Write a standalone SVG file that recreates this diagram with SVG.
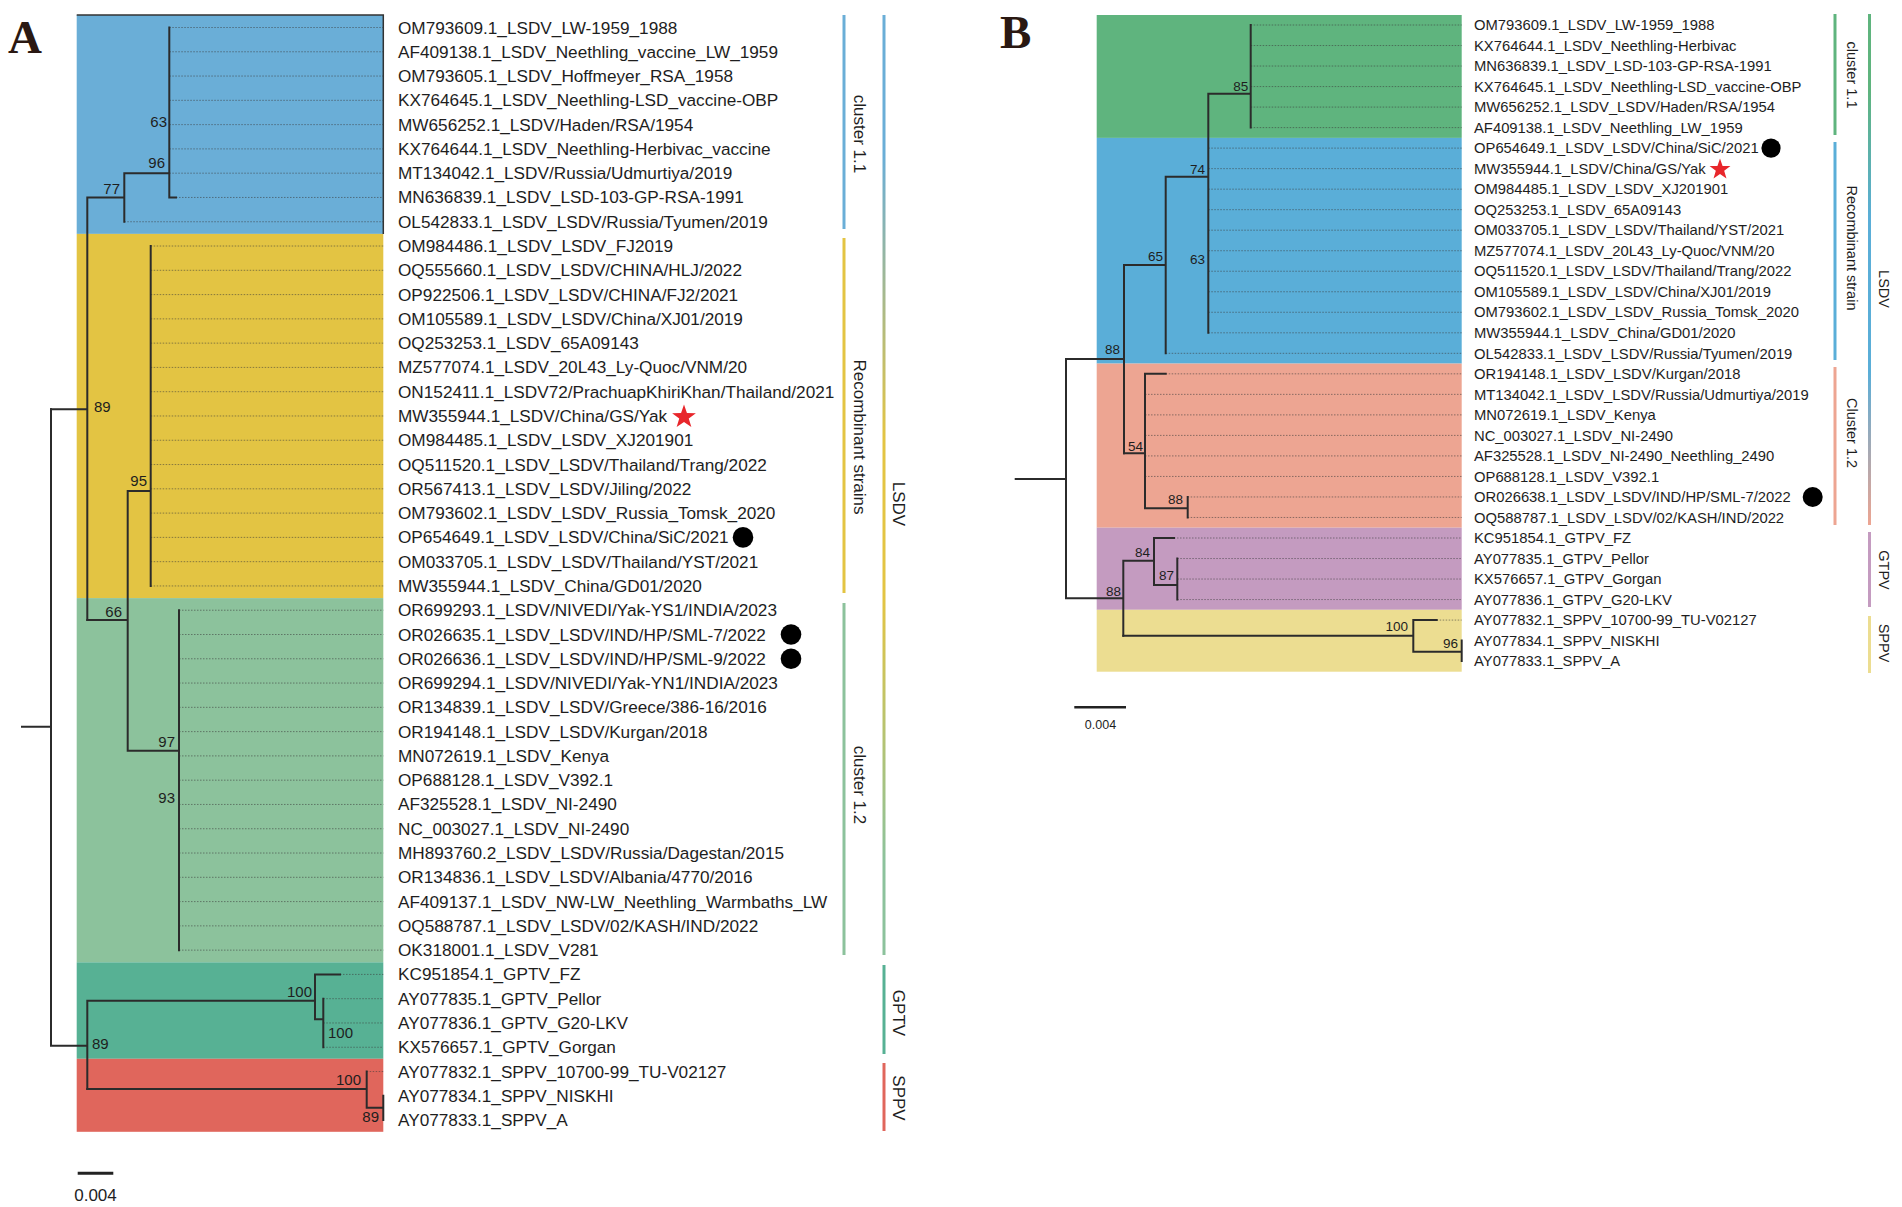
<svg xmlns="http://www.w3.org/2000/svg" xmlns:xlink="http://www.w3.org/1999/xlink" width="1902" height="1207" viewBox="0 0 1902 1207">
<style>
text{font-family:"Liberation Sans",Arial,sans-serif;fill:#1e1e1e}
.la{font-size:17.2px}
.lb{font-size:14.8px}
.bs{font-size:15px}
.bsb{font-size:13.5px}
.rot{font-size:17px;text-anchor:middle}
.rotb{font-size:14.5px;text-anchor:middle}
.panel{font-family:"Liberation Serif","Times New Roman",serif;font-weight:bold;font-size:47px;fill:#2a1812}
.br{stroke:#2b2b2b;stroke-width:2;fill:none;stroke-linecap:square}
.dot{stroke:#3a3a3a;stroke-width:1;stroke-dasharray:1.5 1.5;fill:none;opacity:0.55}
.bar{stroke-width:3;fill:none}
.end{text-anchor:end}
</style>
<defs>
<path id="star" d="M0,-1 L0.235,-0.324 L0.951,-0.309 L0.380,0.124 L0.588,0.809 L0,0.4 L-0.588,0.809 L-0.380,0.124 L-0.951,-0.309 L-0.235,-0.324 Z" fill="#e8262b"/>
<linearGradient id="gA" gradientUnits="userSpaceOnUse" x1="0" y1="15" x2="0" y2="955">
<stop offset="0" stop-color="#6aaed7"/><stop offset="0.15" stop-color="#6aaed7"/><stop offset="0.45" stop-color="#e3c443"/><stop offset="0.62" stop-color="#e3c443"/><stop offset="0.9" stop-color="#8cc29c"/><stop offset="1" stop-color="#8cc29c"/>
</linearGradient>
<linearGradient id="gB" gradientUnits="userSpaceOnUse" x1="0" y1="14" x2="0" y2="525">
<stop offset="0" stop-color="#5fb47e"/><stop offset="0.15" stop-color="#5fb47e"/><stop offset="0.4" stop-color="#5aaed8"/><stop offset="0.7" stop-color="#5aaed8"/><stop offset="1" stop-color="#eda592"/>
</linearGradient>
</defs>
<rect width="1902" height="1207" fill="#ffffff"/>

<!-- Panel A backgrounds -->
<g id="A-bg">
<rect x="76.7" y="15" width="306.6" height="218.9" fill="#6aaed7"/>
<rect x="76.7" y="233.9" width="306.6" height="364.2" fill="#e3c443"/>
<rect x="76.7" y="598.1" width="306.6" height="364.2" fill="#8cc29c"/>
<rect x="76.7" y="962.3" width="306.6" height="96.5" fill="#57b194"/>
<rect x="76.7" y="1058.8" width="306.6" height="73" fill="#e0665c"/>
<path d="M76.7,15 H383.3 V233.9" stroke="#333" stroke-width="1.5" fill="none"/>
</g>
<!-- Panel B backgrounds -->
<g id="B-bg">
<rect x="1096.7" y="15" width="365" height="122.9" fill="#5fb47e"/>
<rect x="1096.7" y="137.9" width="365" height="225.7" fill="#5aaed8"/>
<rect x="1096.7" y="363.6" width="365" height="164.1" fill="#eda592"/>
<rect x="1096.7" y="527.7" width="365" height="82.1" fill="#c49bc0"/>
<rect x="1096.7" y="609.8" width="365" height="61.9" fill="#ecdd91"/>
</g>

<text class="panel" x="8" y="53">A</text>
<text class="panel" x="1000" y="48">B</text>

<!-- connectors -->
<g id="connectors">
<g id="A-dotted" class="dot">
<path d="M169.3,27.5H383.3M169.3,51.78H383.3M169.3,76.06H383.3M169.3,100.34H383.3M169.3,124.62H383.3M169.3,148.9H383.3M169.3,173.18H383.3M176,197.46H383.3M124.3,221.74H383.3"/>
<path d="M150.7,246.02H383.3M150.7,270.3H383.3M150.7,294.58H383.3M150.7,318.86H383.3M150.7,343.14H383.3M150.7,367.42H383.3M150.7,391.7H383.3M150.7,415.98H383.3M150.7,440.26H383.3M150.7,464.54H383.3M150.7,488.82H383.3M150.7,513.1H383.3M150.7,537.38H383.3M150.7,561.66H383.3M150.7,585.94H383.3"/>
<path d="M179,610.22H383.3M179,634.5H383.3M179,658.78H383.3M179,683.06H383.3M179,707.34H383.3M179,731.62H383.3M179,755.9H383.3M179,780.18H383.3M179,804.46H383.3M179,828.74H383.3M179,853.02H383.3M179,877.3H383.3M179,901.58H383.3M179,925.86H383.3M179,950.14H383.3"/>
<path d="M340,974.42H383.3M323.3,998.7H383.3M323.3,1022.98H383.3M323.3,1047.26H383.3M366.7,1071.54H383.3"/>
</g>
<g id="A-tree" class="br">
<path d="M169.3,27.5V197.46H176M124.3,173.18H169.3M124.3,173.18V221.74M87.3,197.46H124.3M87.3,197.46V620M51,409.3H87.3"/>
<path d="M150.7,246.02V585.94M127.7,491H150.7M127.7,491V750.7M87.3,620H127.7M179,610.22V950.14M127.7,750.7H179"/>
<path d="M22,726.7H51M51,409.3V1045.7H87.3M87.3,1000.7V1089M87.3,1000.7H315M315,974.42V1019.3M315,974.42H340M315,1019.3H323.3M323.3,998.7V1047.26"/>
<path d="M87.3,1089H366.7M366.7,1071.54V1107.7H383.3M383.3,1095.82V1120.1"/>
</g>
<g id="B-dotted" class="dot">
<path d="M1250.7,25H1461.7M1250.7,45.52H1461.7M1250.7,66.04H1461.7M1250.7,86.56H1461.7M1250.7,107.08H1461.7M1250.7,127.6H1461.7"/>
<path d="M1208.3,148.12H1461.7M1208.3,168.64H1461.7M1208.3,189.16H1461.7M1208.3,209.68H1461.7M1208.3,230.2H1461.7M1208.3,250.72H1461.7M1208.3,271.24H1461.7M1208.3,291.76H1461.7M1208.3,312.28H1461.7M1208.3,332.8H1461.7M1165.7,353.32H1461.7"/>
<path d="M1165.7,373.84H1461.7M1145,394.36H1461.7M1145,414.88H1461.7M1145,435.4H1461.7M1145,455.92H1461.7M1145,476.44H1461.7M1187.7,496.96H1461.7M1187.7,517.48H1461.7"/>
<path d="M1174,538H1461.7M1177.3,558.52H1461.7M1177.3,579.04H1461.7M1177.3,599.56H1461.7M1436.7,620.08H1461.7"/>
</g>
<g id="B-tree" class="br">
<path d="M1250.7,25V127.6M1208.3,93.7H1250.7M1208.3,93.7V332.8M1165.7,176.7H1208.3M1165.7,176.7V353.32M1124,265H1165.7M1124,265V453.3M1066,359H1124"/>
<path d="M1124,453.3H1145M1145,373.84V508.3M1145,373.84H1165.7M1145,508.3H1187.7M1187.7,496.96V517.48"/>
<path d="M1015.7,479H1066M1066,359V598.3H1123.3M1123.3,560.7V635.7M1123.3,560.7H1154M1154,538V585M1154,538H1174M1154,585H1177.3M1177.3,558.52V599.56"/>
<path d="M1123.3,635.7H1413.3M1413.3,620.08V651.7M1413.3,620.08H1436.7M1413.3,651.7H1461.7M1461.7,640.6V661.12"/>
</g>
</g>

<!-- bootstrap values A -->
<g id="A-support" class="bs">
<text class="end" x="167" y="126.5">63</text>
<text class="end" x="165" y="167.5">96</text>
<text class="end" x="120" y="193.5">77</text>
<text x="94" y="411.5">89</text>
<text class="end" x="147" y="485.5">95</text>
<text class="end" x="122" y="616.5">66</text>
<text class="end" x="175" y="747">97</text>
<text class="end" x="175" y="803">93</text>
<text class="end" x="312" y="997">100</text>
<text x="328" y="1037.5">100</text>
<text x="92" y="1048.5">89</text>
<text class="end" x="361" y="1084.5">100</text>
<text class="end" x="379" y="1122">89</text>
</g>
<!-- bootstrap values B -->
<g id="B-support" class="bsb">
<text class="end" x="1248.3" y="91">85</text>
<text class="end" x="1205" y="174">74</text>
<text class="end" x="1205" y="264">63</text>
<text class="end" x="1163" y="261">65</text>
<text class="end" x="1120" y="354">88</text>
<text x="1128" y="451">54</text>
<text class="end" x="1183" y="504">88</text>
<text class="end" x="1150" y="557">84</text>
<text class="end" x="1174" y="580">87</text>
<text class="end" x="1121" y="595.5">88</text>
<text class="end" x="1408" y="631">100</text>
<text class="end" x="1458" y="648">96</text>
</g>

<!-- Panel A leaves -->
<g id="A-leaves" class="la">
<g id="A0"><text x="398" y="33.5">OM793609.1_LSDV_LW-1959_1988</text></g>
<g id="A1"><text x="398" y="57.78">AF409138.1_LSDV_Neethling_vaccine_LW_1959</text></g>
<g id="A2"><text x="398" y="82.06">OM793605.1_LSDV_Hoffmeyer_RSA_1958</text></g>
<g id="A3"><text x="398" y="106.34">KX764645.1_LSDV_Neethling-LSD_vaccine-OBP</text></g>
<g id="A4"><text x="398" y="130.62">MW656252.1_LSDV/Haden/RSA/1954</text></g>
<g id="A5"><text x="398" y="154.9">KX764644.1_LSDV_Neethling-Herbivac_vaccine</text></g>
<g id="A6"><text x="398" y="179.18">MT134042.1_LSDV/Russia/Udmurtiya/2019</text></g>
<g id="A7"><text x="398" y="203.46">MN636839.1_LSDV_LSD-103-GP-RSA-1991</text></g>
<g id="A8"><text x="398" y="227.74">OL542833.1_LSDV_LSDV/Russia/Tyumen/2019</text></g>
<g id="A9"><text x="398" y="252.02">OM984486.1_LSDV_LSDV_FJ2019</text></g>
<g id="A10"><text x="398" y="276.3">OQ555660.1_LSDV_LSDV/CHINA/HLJ/2022</text></g>
<g id="A11"><text x="398" y="300.58">OP922506.1_LSDV_LSDV/CHINA/FJ2/2021</text></g>
<g id="A12"><text x="398" y="324.86">OM105589.1_LSDV_LSDV/China/XJ01/2019</text></g>
<g id="A13"><text x="398" y="349.14">OQ253253.1_LSDV_65A09143</text></g>
<g id="A14"><text x="398" y="373.42">MZ577074.1_LSDV_20L43_Ly-Quoc/VNM/20</text></g>
<g id="A15"><text x="398" y="397.7">ON152411.1_LSDV72/PrachuapKhiriKhan/Thailand/2021</text></g>
<g id="A16"><text x="398" y="421.98">MW355944.1_LSDV/China/GS/Yak</text><use href="#star" transform="translate(684,417) scale(12.5)"/></g>
<g id="A17"><text x="398" y="446.26">OM984485.1_LSDV_LSDV_XJ201901</text></g>
<g id="A18"><text x="398" y="470.54">OQ511520.1_LSDV_LSDV/Thailand/Trang/2022</text></g>
<g id="A19"><text x="398" y="494.82">OR567413.1_LSDV_LSDV/Jiling/2022</text></g>
<g id="A20"><text x="398" y="519.1">OM793602.1_LSDV_LSDV_Russia_Tomsk_2020</text></g>
<g id="A21"><text x="398" y="543.38">OP654649.1_LSDV_LSDV/China/SiC/2021</text><circle cx="743" cy="537.4" r="10.3" fill="#000"/></g>
<g id="A22"><text x="398" y="567.66">OM033705.1_LSDV_LSDV/Thailand/YST/2021</text></g>
<g id="A23"><text x="398" y="591.94">MW355944.1_LSDV_China/GD01/2020</text></g>
<g id="A24"><text x="398" y="616.22">OR699293.1_LSDV/NIVEDI/Yak-YS1/INDIA/2023</text></g>
<g id="A25"><text x="398" y="640.5">OR026635.1_LSDV_LSDV/IND/HP/SML-7/2022</text><circle cx="791" cy="634.5" r="10.3" fill="#000"/></g>
<g id="A26"><text x="398" y="664.78">OR026636.1_LSDV_LSDV/IND/HP/SML-9/2022</text><circle cx="791" cy="658.8" r="10.3" fill="#000"/></g>
<g id="A27"><text x="398" y="689.06">OR699294.1_LSDV/NIVEDI/Yak-YN1/INDIA/2023</text></g>
<g id="A28"><text x="398" y="713.34">OR134839.1_LSDV_LSDV/Greece/386-16/2016</text></g>
<g id="A29"><text x="398" y="737.62">OR194148.1_LSDV_LSDV/Kurgan/2018</text></g>
<g id="A30"><text x="398" y="761.9">MN072619.1_LSDV_Kenya</text></g>
<g id="A31"><text x="398" y="786.18">OP688128.1_LSDV_V392.1</text></g>
<g id="A32"><text x="398" y="810.46">AF325528.1_LSDV_NI-2490</text></g>
<g id="A33"><text x="398" y="834.74">NC_003027.1_LSDV_NI-2490</text></g>
<g id="A34"><text x="398" y="859.02">MH893760.2_LSDV_LSDV/Russia/Dagestan/2015</text></g>
<g id="A35"><text x="398" y="883.3">OR134836.1_LSDV_LSDV/Albania/4770/2016</text></g>
<g id="A36"><text x="398" y="907.58">AF409137.1_LSDV_NW-LW_Neethling_Warmbaths_LW</text></g>
<g id="A37"><text x="398" y="931.86">OQ588787.1_LSDV_LSDV/02/KASH/IND/2022</text></g>
<g id="A38"><text x="398" y="956.14">OK318001.1_LSDV_V281</text></g>
<g id="A39"><text x="398" y="980.42">KC951854.1_GPTV_FZ</text></g>
<g id="A40"><text x="398" y="1004.7">AY077835.1_GPTV_Pellor</text></g>
<g id="A41"><text x="398" y="1028.98">AY077836.1_GPTV_G20-LKV</text></g>
<g id="A42"><text x="398" y="1053.26">KX576657.1_GPTV_Gorgan</text></g>
<g id="A43"><text x="398" y="1077.54">AY077832.1_SPPV_10700-99_TU-V02127</text></g>
<g id="A44"><text x="398" y="1101.82">AY077834.1_SPPV_NISKHI</text></g>
<g id="A45"><text x="398" y="1126.1">AY077833.1_SPPV_A</text></g>
</g>

<!-- Panel B leaves -->
<g id="B-leaves" class="lb">
<g id="B0"><text x="1474" y="30.2">OM793609.1_LSDV_LW-1959_1988</text></g>
<g id="B1"><text x="1474" y="50.72">KX764644.1_LSDV_Neethling-Herbivac</text></g>
<g id="B2"><text x="1474" y="71.24">MN636839.1_LSDV_LSD-103-GP-RSA-1991</text></g>
<g id="B3"><text x="1474" y="91.76">KX764645.1_LSDV_Neethling-LSD_vaccine-OBP</text></g>
<g id="B4"><text x="1474" y="112.28">MW656252.1_LSDV_LSDV/Haden/RSA/1954</text></g>
<g id="B5"><text x="1474" y="132.8">AF409138.1_LSDV_Neethling_LW_1959</text></g>
<g id="B6"><text x="1474" y="153.32">OP654649.1_LSDV_LSDV/China/SiC/2021</text><circle cx="1771" cy="148.1" r="9.6" fill="#000"/></g>
<g id="B7"><text x="1474" y="173.84">MW355944.1_LSDV/China/GS/Yak</text><use href="#star" transform="translate(1720,169.5) scale(11)"/></g>
<g id="B8"><text x="1474" y="194.36">OM984485.1_LSDV_LSDV_XJ201901</text></g>
<g id="B9"><text x="1474" y="214.88">OQ253253.1_LSDV_65A09143</text></g>
<g id="B10"><text x="1474" y="235.4">OM033705.1_LSDV_LSDV/Thailand/YST/2021</text></g>
<g id="B11"><text x="1474" y="255.92">MZ577074.1_LSDV_20L43_Ly-Quoc/VNM/20</text></g>
<g id="B12"><text x="1474" y="276.44">OQ511520.1_LSDV_LSDV/Thailand/Trang/2022</text></g>
<g id="B13"><text x="1474" y="296.96">OM105589.1_LSDV_LSDV/China/XJ01/2019</text></g>
<g id="B14"><text x="1474" y="317.48">OM793602.1_LSDV_LSDV_Russia_Tomsk_2020</text></g>
<g id="B15"><text x="1474" y="338">MW355944.1_LSDV_China/GD01/2020</text></g>
<g id="B16"><text x="1474" y="358.52">OL542833.1_LSDV_LSDV/Russia/Tyumen/2019</text></g>
<g id="B17"><text x="1474" y="379.04">OR194148.1_LSDV_LSDV/Kurgan/2018</text></g>
<g id="B18"><text x="1474" y="399.56">MT134042.1_LSDV_LSDV/Russia/Udmurtiya/2019</text></g>
<g id="B19"><text x="1474" y="420.08">MN072619.1_LSDV_Kenya</text></g>
<g id="B20"><text x="1474" y="440.6">NC_003027.1_LSDV_NI-2490</text></g>
<g id="B21"><text x="1474" y="461.12">AF325528.1_LSDV_NI-2490_Neethling_2490</text></g>
<g id="B22"><text x="1474" y="481.64">OP688128.1_LSDV_V392.1</text></g>
<g id="B23"><text x="1474" y="502.16">OR026638.1_LSDV_LSDV/IND/HP/SML-7/2022</text><circle cx="1812.7" cy="497" r="10" fill="#000"/></g>
<g id="B24"><text x="1474" y="522.68">OQ588787.1_LSDV_LSDV/02/KASH/IND/2022</text></g>
<g id="B25"><text x="1474" y="543.2">KC951854.1_GTPV_FZ</text></g>
<g id="B26"><text x="1474" y="563.72">AY077835.1_GTPV_Pellor</text></g>
<g id="B27"><text x="1474" y="584.24">KX576657.1_GTPV_Gorgan</text></g>
<g id="B28"><text x="1474" y="604.76">AY077836.1_GTPV_G20-LKV</text></g>
<g id="B29"><text x="1474" y="625.28">AY077832.1_SPPV_10700-99_TU-V02127</text></g>
<g id="B30"><text x="1474" y="645.8">AY077834.1_SPPV_NISKHI</text></g>
<g id="B31"><text x="1474" y="666.32">AY077833.1_SPPV_A</text></g>
</g>

<!-- clade bars A -->
<g id="A-clades">
<path class="bar" stroke="#6aaed7" d="M844,15V229"/>
<text class="rot" transform="translate(854,134) rotate(90)">cluster 1.1</text>
<path class="bar" stroke="#e3c443" d="M844,238V593"/>
<text class="rot" transform="translate(854,437) rotate(90)">Recombinant strains</text>
<path class="bar" stroke="#8cc29c" d="M844,603V955"/>
<text class="rot" transform="translate(854,785) rotate(90)">cluster 1.2</text>
<path class="bar" stroke="url(#gA)" d="M884,15V955"/>
<text class="rot" transform="translate(893,504) rotate(90)">LSDV</text>
<path class="bar" stroke="#57b194" d="M884,965V1054"/>
<text class="rot" transform="translate(893,1013) rotate(90)">GPTV</text>
<path class="bar" stroke="#e0665c" d="M884,1063V1131"/>
<text class="rot" transform="translate(893,1098) rotate(90)">SPPV</text>
</g>
<!-- clade bars B -->
<g id="B-clades">
<path class="bar" stroke="#5fb47e" d="M1835,14V135"/>
<text class="rotb" transform="translate(1847,75) rotate(90)">cluster 1.1</text>
<path class="bar" stroke="#5aaed8" d="M1835,142V360"/>
<text class="rotb" transform="translate(1847,248) rotate(90)">Recombinant strain</text>
<path class="bar" stroke="#eda592" d="M1835,367V525"/>
<text class="rotb" transform="translate(1847,433) rotate(90)">Cluster 1.2</text>
<path class="bar" stroke="url(#gB)" d="M1869.5,14V525"/>
<text class="rotb" transform="translate(1879,289) rotate(90)">LSDV</text>
<path class="bar" stroke="#c49bc0" d="M1869.5,532V607"/>
<text class="rotb" transform="translate(1879,570) rotate(90)">GTPV</text>
<path class="bar" stroke="#ecdd91" d="M1869.5,616V673"/>
<text class="rotb" transform="translate(1879,643) rotate(90)">SPPV</text>
</g>

<!-- scale bars -->
<g id="A-scale">
<path d="M77.7,1173.3H113.3" stroke="#222" stroke-width="3"/>
<text x="95.5" y="1201" font-size="17" text-anchor="middle">0.004</text>
</g>
<g id="B-scale">
<path d="M1074.3,707.3H1126" stroke="#222" stroke-width="2.5"/>
<text x="1100.5" y="728.5" font-size="12.5" text-anchor="middle">0.004</text>
</g>
</svg>
